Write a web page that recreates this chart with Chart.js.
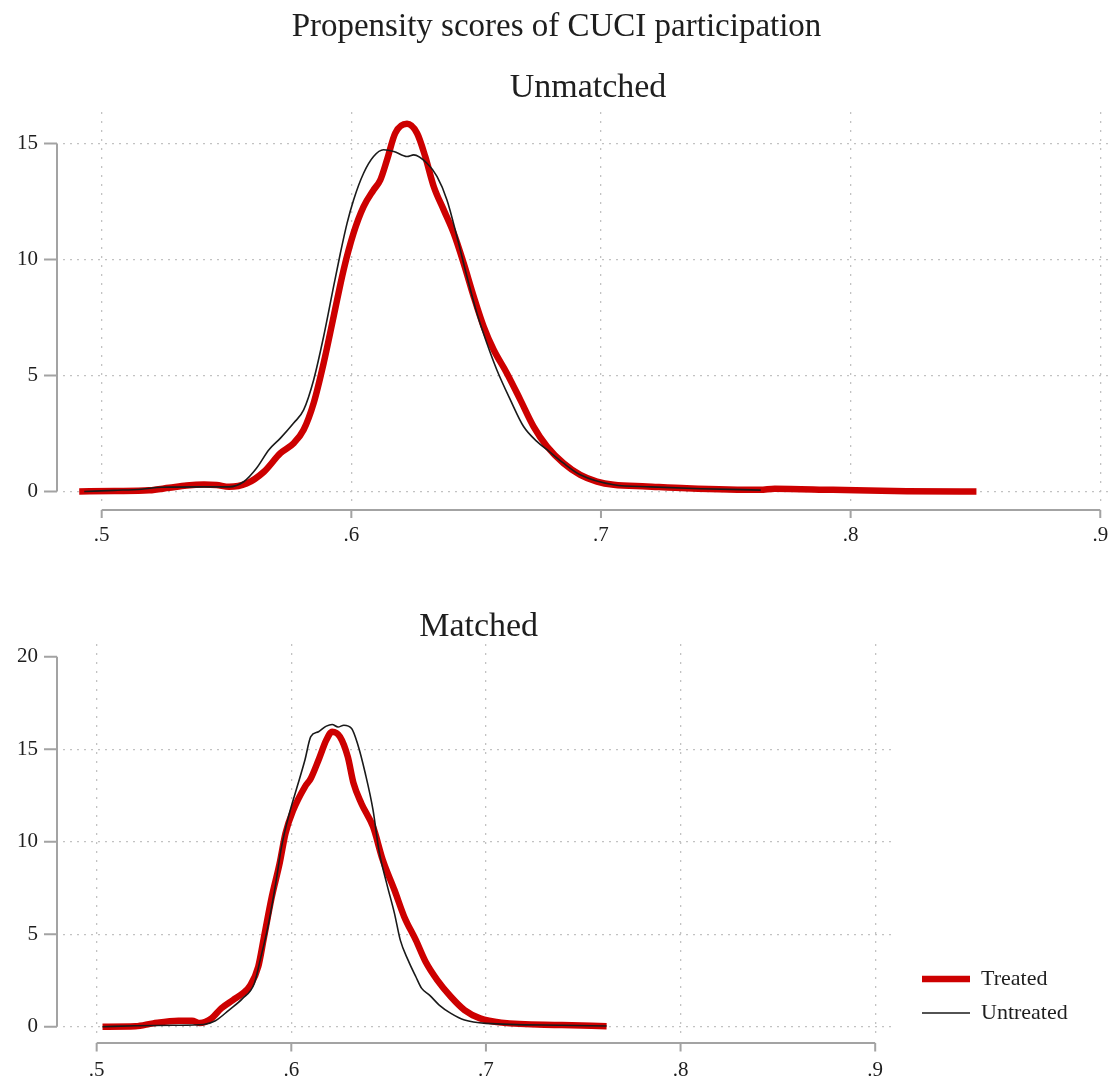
<!DOCTYPE html>
<html>
<head>
<meta charset="utf-8">
<title>Propensity scores of CUCI participation</title>
<script src="https://cdn.jsdelivr.net/npm/chart.js@4.4.1/dist/chart.umd.min.js"></script>
<style>
html, body { margin: 0; padding: 0; background: #ffffff; }
#wrapTop { position: absolute; left: 0; top: 0; width: 1115px; height: 560px; }
#wrapBottom { position: absolute; left: 0; top: 560px; width: 1115px; height: 522px; }
</style>
</head>
<body>
<div id="wrapTop"><canvas id="cTop"></canvas></div>
<div id="wrapBottom"><canvas id="cBottom"></canvas></div>
<script>
// ---------- text ----------
const mainTitle = "Propensity scores of CUCI participation";
const topPanelTitle = "Unmatched";
const bottomPanelTitle = "Matched";
const seriesNames = ["Treated", "Untreated"];

// ---------- tick values / labels ----------
const xTickValues = [0.5, 0.6, 0.7, 0.8, 0.9];
const xTickLabels = [".5", ".6", ".7", ".8", ".9"];
const unmatchedYTicks = [0, 5, 10, 15];
const matchedYTicks = [0, 5, 10, 15, 20];

// ---------- Unmatched panel: kernel densities ----------
const unmatchedTreatedX = [0.491, 0.505, 0.519, 0.527, 0.534, 0.541, 0.546, 0.551, 0.558, 0.565, 0.5716, 0.5769, 0.5809, 0.5849, 0.5889, 0.5929, 0.5969, 0.6009, 0.6049, 0.6089, 0.6116, 0.6143, 0.6176, 0.6223, 0.6263, 0.6296, 0.6330, 0.6370, 0.6410, 0.6450, 0.6490, 0.6530, 0.6570, 0.6623, 0.6677, 0.6730, 0.6784, 0.6850, 0.6917, 0.6984, 0.7051, 0.7184, 0.7343, 0.7637, 0.7696, 0.7929, 0.8225, 0.8504];
const unmatchedTreatedY = [0.00, 0.02, 0.05, 0.16, 0.26, 0.30, 0.28, 0.20, 0.34, 0.85, 1.65, 2.08, 2.66, 3.81, 5.53, 7.54, 9.55, 11.14, 12.28, 13.00, 13.43, 14.30, 15.45, 15.85, 15.45, 14.44, 13.15, 12.14, 11.14, 9.84, 8.41, 7.11, 6.11, 5.10, 3.95, 2.80, 1.94, 1.22, 0.72, 0.43, 0.29, 0.22, 0.14, 0.07, 0.12, 0.07, 0.01, 0.00];

const unmatchedUntreatedX = [0.493, 0.505, 0.516, 0.524, 0.540, 0.551, 0.557, 0.562, 0.567, 0.5716, 0.5769, 0.5809, 0.5849, 0.5889, 0.5929, 0.5956, 0.5983, 0.6009, 0.6049, 0.6089, 0.6129, 0.6170, 0.6223, 0.6250, 0.6303, 0.6343, 0.6383, 0.6423, 0.6463, 0.6503, 0.6543, 0.6583, 0.6637, 0.6690, 0.6743, 0.6784, 0.6850, 0.6917, 0.7051, 0.7200, 0.7400, 0.7640];
const unmatchedUntreatedY = [0.00, 0.05, 0.10, 0.18, 0.20, 0.20, 0.43, 1.00, 1.80, 2.30, 2.95, 3.52, 4.81, 6.68, 8.84, 10.27, 11.57, 12.57, 13.72, 14.44, 14.73, 14.66, 14.44, 14.51, 14.15, 13.58, 12.57, 10.99, 9.27, 7.69, 6.39, 5.24, 3.95, 2.80, 2.16, 1.80, 1.22, 0.72, 0.29, 0.20, 0.12, 0.06];

// ---------- Matched panel ----------
const matchedTreatedX = [0.503, 0.520, 0.529, 0.542, 0.549, 0.553, 0.559, 0.564, 0.570, 0.575, 0.579, 0.583, 0.586, 0.590, 0.594, 0.597, 0.601, 0.607, 0.610, 0.614, 0.618, 0.621, 0.625, 0.629, 0.632, 0.636, 0.642, 0.647, 0.653, 0.658, 0.664, 0.669, 0.675, 0.682, 0.689, 0.697, 0.708, 0.739, 0.762];
const matchedTreatedY = [0.00, 0.02, 0.18, 0.32, 0.32, 0.20, 0.45, 0.99, 1.44, 1.80, 2.25, 3.24, 4.86, 7.03, 8.83, 10.45, 11.71, 12.97, 13.42, 14.42, 15.50, 15.95, 15.68, 14.60, 13.15, 12.07, 10.81, 9.01, 7.39, 5.95, 4.68, 3.51, 2.52, 1.62, 0.90, 0.45, 0.22, 0.09, 0.03];

const matchedUntreatedX = [0.503, 0.520, 0.540, 0.555, 0.561, 0.568, 0.575, 0.581, 0.584, 0.588, 0.592, 0.595, 0.599, 0.603, 0.607, 0.610, 0.614, 0.618, 0.621, 0.624, 0.627, 0.631, 0.634, 0.638, 0.642, 0.645, 0.649, 0.653, 0.656, 0.660, 0.664, 0.667, 0.671, 0.676, 0.682, 0.689, 0.700, 0.739, 0.762];
const matchedUntreatedY = [0.00, 0.05, 0.08, 0.12, 0.32, 0.90, 1.53, 2.34, 3.60, 5.41, 7.75, 9.73, 11.53, 12.97, 14.42, 15.68, 15.95, 16.25, 16.34, 16.20, 16.30, 16.12, 15.31, 13.70, 11.71, 9.55, 7.75, 6.13, 4.68, 3.60, 2.70, 2.07, 1.71, 1.17, 0.72, 0.36, 0.18, 0.08, 0.04];

// ---------- styling ----------
const FONT = "'Liberation Serif', 'Times New Roman', Times, serif";
const TEXT = '#1e1e1e';
const GRID = '#c2c2c2';
const AXIS = '#a3a3a3';
const RED = 'rgb(205, 0, 0)';
const BLACK = '#1a1a1a';

Chart.defaults.font.family = FONT;
Chart.defaults.color = TEXT;

function pts(xs, ys) { return xs.map((x, i) => ({ x: x, y: ys[i] })); }

// Stata-style axis lines spanning only the labelled range, offset from the plot region
const stataAxes = {
  id: 'stataAxes',
  beforeDatasetsDraw(chart, args, o) {
    const { ctx, chartArea } = chart;
    const xs = chart.scales.x, ys = chart.scales.y;
    const xv = xs.ticks.map(t => t.value), yv = ys.ticks.map(t => t.value);
    const lineY = chartArea.bottom + o.xGap;
    const lineX = chartArea.left - o.yGap;
    ctx.save();
    ctx.strokeStyle = o.color;
    ctx.lineWidth = o.width;
    ctx.beginPath();
    ctx.moveTo(xs.getPixelForValue(xv[0]), lineY);
    ctx.lineTo(xs.getPixelForValue(xv[xv.length - 1]), lineY);
    xv.forEach(v => { const p = xs.getPixelForValue(v); ctx.moveTo(p, lineY); ctx.lineTo(p, lineY + o.xTick); });
    ctx.moveTo(lineX, ys.getPixelForValue(yv[0]));
    ctx.lineTo(lineX, ys.getPixelForValue(yv[yv.length - 1]));
    yv.forEach(v => { const p = ys.getPixelForValue(v); ctx.moveTo(lineX, p); ctx.lineTo(lineX - o.yTick, p); });
    ctx.stroke();
    ctx.restore();
  }
};

// place the legend block where the original has it (outside the plot, lower right)
const legendPlace = {
  id: 'legendPlace',
  afterLayout(chart, args, o) {
    const l = chart.legend;
    if (!l || !l.options.display || o.left === undefined) return;
    const w = l.width;
    l.left = o.left; l.right = o.left + w;
    l.top += o.dy; l.bottom += o.dy;
  }
};

function datasets(tx, ty, ux, uy) {
  return [
    { label: seriesNames[0], data: pts(tx, ty), borderColor: RED, backgroundColor: RED,
      borderWidth: 6.5, pointRadius: 0, fill: false, cubicInterpolationMode: 'monotone',
      borderCapStyle: 'butt', borderJoinStyle: 'round', order: 2 },
    { label: seriesNames[1], data: pts(ux, uy), borderColor: BLACK, backgroundColor: BLACK,
      borderWidth: 1.6, pointRadius: 0, fill: false, cubicInterpolationMode: 'monotone',
      borderCapStyle: 'butt', borderJoinStyle: 'round', order: 1 }
  ];
}

function scales(c) {
  return {
    x: {
      type: 'linear', min: c.xMin, max: c.xMax,
      afterBuildTicks: s => { s.ticks = xTickValues.map(v => ({ value: v })); },
      afterFit: s => { s.height = c.xAxisHeight; },
      grid: { color: GRID, lineWidth: 1.3, drawTicks: true, tickLength: 20, tickColor: 'rgba(0,0,0,0)' },
      border: { display: false, dash: [2, 7] },
      ticks: { autoSkip: false, maxRotation: 0, padding: 0, color: TEXT,
               font: { family: FONT, size: 21 }, callback: (v, i) => xTickLabels[i] }
    },
    y: {
      type: 'linear', min: c.yMin, max: c.yMax,
      afterBuildTicks: s => { s.ticks = c.yTicks.map(v => ({ value: v })); },
      afterFit: s => { s.width = 63; },
      grid: { color: ctx => (ctx.tick && c.noGrid.includes(ctx.tick.value)) ? 'rgba(0,0,0,0)' : GRID,
              lineWidth: 1.3, drawTicks: true, tickLength: 25, tickColor: 'rgba(0,0,0,0)' },
      border: { display: false, dash: [2, 5] },
      ticks: { autoSkip: false, padding: 0, color: TEXT, font: { family: FONT, size: 21 },
               callback: (v, i) => String(c.yTicks[i]) }
    }
  };
}

new Chart(document.getElementById('cTop'), {
  type: 'line',
  data: { datasets: datasets(unmatchedTreatedX, unmatchedTreatedY, unmatchedUntreatedX, unmatchedUntreatedY) },
  options: {
    responsive: true, maintainAspectRatio: false, animation: false, events: [],
    layout: { padding: { left: 0, right: 2, top: 0, bottom: 0 } },
    scales: scales({ xMin: 0.4845, xMax: 0.9051, yMin: -0.496, yMax: 16.36, yTicks: unmatchedYTicks, noGrid: [], xAxisHeight: 57 }),
    plugins: {
      legend: { display: false },
      tooltip: { enabled: false },
      title: { display: true, text: mainTitle, color: TEXT,
               font: { family: FONT, size: 33, weight: 'normal', lineHeight: 1 },
               padding: { top: 10.5, bottom: 0 } },
      subtitle: { display: true, text: topPanelTitle, color: TEXT, fullSize: false,
                  font: { family: FONT, size: 34, weight: 'normal', lineHeight: 1 },
                  padding: { top: 27.5, bottom: 7 } },
      stataAxes: { color: AXIS, width: 2, xGap: 7, yGap: 6, xTick: 8, yTick: 13 }
    }
  },
  plugins: [stataAxes]
});

new Chart(document.getElementById('cBottom'), {
  type: 'line',
  data: { datasets: datasets(matchedTreatedX, matchedTreatedY, matchedUntreatedX, matchedUntreatedY) },
  options: {
    responsive: true, maintainAspectRatio: false, animation: false, events: [],
    layout: { padding: { left: 0, right: 53, top: 0, bottom: 0 } },
    scales: scales({ xMin: 0.4827, xMax: 0.9098, yMin: -0.611, yMax: 20.69, yTicks: matchedYTicks, noGrid: [20], xAxisHeight: 44 }),
    plugins: {
      legend: { display: true, position: 'right', align: 'end', fullSize: false,
                labels: { usePointStyle: true, pointStyle: 'line', pointStyleWidth: 48, padding: 12,
                          color: TEXT, font: { family: FONT, size: 22 },
                          sort: (a, b) => a.datasetIndex - b.datasetIndex } },
      tooltip: { enabled: false },
      title: { display: true, text: bottomPanelTitle, color: TEXT, fullSize: false,
               font: { family: FONT, size: 34, weight: 'normal', lineHeight: 1 },
               padding: { top: 50, bottom: 0 } },
      stataAxes: { color: AXIS, width: 2, xGap: 5, yGap: 6, xTick: 8.5, yTick: 13 },
      legendPlace: { left: 910, dy: -2 }
    }
  },
  plugins: [stataAxes, legendPlace]
});
</script>
</body>
</html>
